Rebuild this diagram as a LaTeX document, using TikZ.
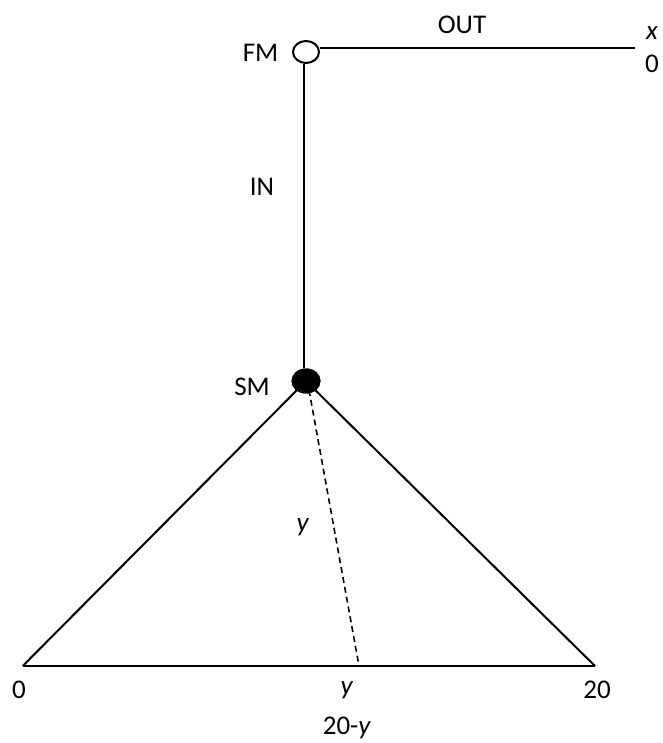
\documentclass[tikz,border=0pt]{standalone}
\usepackage{fontspec}
\setmainfont{Carlito}
\usetikzlibrary{shapes.geometric}
\begin{document}
\begin{tikzpicture}[x=1pt,y=-1pt,
  lbl/.style={inner sep=0pt,font=\fontsize{27}{30}\selectfont},
  ln/.style={line width=2pt}]
\useasboundingbox (0,0) rectangle (662,743);
\coordinate (outend) at (635,48.5);
\coordinate (L) at (22.7,666);
\coordinate (R) at (595,666);
\coordinate (D) at (359,666);
\coordinate (Ds) at (309,390);
\node[ellipse, draw, line width=2pt, fill=white, minimum width=26, minimum height=22, inner sep=0pt] (FM) at (306,52) {};
\node[ellipse, fill=black, minimum width=29, minimum height=25, inner sep=0pt] (SM) at (306,381) {};
% connectors
\draw[ln] (FM.east |- outend) -- (outend);
\draw[ln] (FM.south -| 304,0) -- (SM.north -| 304,0);
\draw[ln] (SM.center) -- (L);
\draw[ln] (SM.center) -- (R);
\draw[ln] (L) -- (R);
\draw[line width=1.6pt, dash pattern=on 6pt off 4pt] (Ds) -- (D);
\node[ellipse, fill=black, minimum width=29, minimum height=25, inner sep=0pt] at (SM) {};
% labels
\node[lbl] (tFM) at (260.5,53) {FM};
\node[lbl] (tOUT) at (462,25) {OUT};
\node[lbl] (tx) at (652,33) {\textit{x}};
\node[lbl] (t0r) at (652,64) {0};
\node[lbl] (tIN) at (262,187) {IN};
\node[lbl] (tSM) at (252,387) {SM};
\node[lbl] (ty) at (303,527) {\textit{y}};
\node[lbl] (t0) at (19,690) {0};
\node[lbl] (tyb) at (347,690) {\textit{y}};
\node[lbl] (t20) at (597,690) {20};
\node[lbl] (t20y) at (347,728) {20-\textit{y}};
\end{tikzpicture}
\end{document}
